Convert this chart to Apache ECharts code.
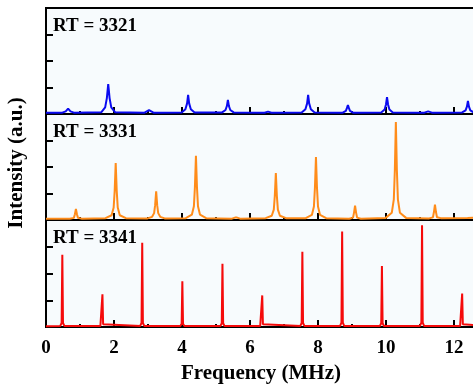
<!DOCTYPE html>
<html>
<head>
<meta charset="utf-8">
<script src="https://cdn.jsdelivr.net/npm/echarts@6/dist/echarts.min.js"></script>
<style>
  body { margin: 0; padding: 0; background: #fff; }
  #chart { width: 473px; height: 391px; }
</style>
</head>
<body>
<div id="chart"></div>
<script>
// panel labels
var panelLabels = ['RT = 3321', 'RT = 3331', 'RT = 3341'];
var xTicks = [0, 2, 4, 6, 8, 10, 12];

// [frequency (MHz), intensity (a.u.)]
var rt3321 = [
  [0, 0.05],
  [0.48, 0.05], [0.58, 0.1], [0.65, 0.2], [0.72, 0.1], [0.82, 0.05],
  [1.63, 0.07], [1.74, 0.25], [1.79, 0.6], [1.83, 1.13], [1.87, 0.6], [1.92, 0.25], [2.03, 0.07],
  [2.9, 0.05], [3.03, 0.15], [3.16, 0.05],
  [3.99, 0.06], [4.1, 0.18], [4.15, 0.4], [4.18, 0.72], [4.21, 0.4], [4.26, 0.18], [4.37, 0.06],
  [5.18, 0.06], [5.28, 0.15], [5.32, 0.3], [5.35, 0.53], [5.38, 0.3], [5.42, 0.15], [5.52, 0.06],
  [6.43, 0.05], [6.53, 0.09], [6.63, 0.05],
  [7.52, 0.06], [7.63, 0.18], [7.68, 0.4], [7.71, 0.72], [7.74, 0.4], [7.79, 0.18], [7.9, 0.06],
  [8.73, 0.05], [8.82, 0.12], [8.85, 0.22], [8.88, 0.34], [8.91, 0.22], [8.94, 0.12], [9.03, 0.05],
  [9.86, 0.06], [9.96, 0.17], [10.0, 0.36], [10.03, 0.64], [10.06, 0.36], [10.1, 0.17], [10.2, 0.06],
  [11.13, 0.05], [11.24, 0.1], [11.35, 0.05],
  [12.24, 0.06], [12.34, 0.14], [12.38, 0.28], [12.41, 0.49], [12.44, 0.28], [12.48, 0.14], [12.58, 0.06],
  [13, 0.05]
];

var rt3331 = [
  [0, 0.05],
  [0.7, 0.05], [0.82, 0.08], [0.85, 0.22], [0.88, 0.42], [0.91, 0.22], [0.94, 0.08], [1.06, 0.05],
  [1.75, 0.07], [1.93, 0.18], [1.99, 0.47], [2.02, 1.1], [2.05, 2.15], [2.08, 1.1], [2.11, 0.47], [2.17, 0.18], [2.35, 0.07],
  [2.99, 0.06], [3.12, 0.12], [3.18, 0.26], [3.21, 0.56], [3.24, 1.08], [3.27, 0.56], [3.3, 0.26], [3.36, 0.12], [3.49, 0.06],
  [4.11, 0.07], [4.29, 0.2], [4.35, 0.52], [4.38, 1.24], [4.41, 2.42], [4.44, 1.24], [4.47, 0.52], [4.53, 0.2], [4.71, 0.07],
  [5.47, 0.05], [5.56, 0.09], [5.59, 0.15], [5.62, 0.09], [5.71, 0.05],
  [6.46, 0.07], [6.64, 0.16], [6.7, 0.39], [6.73, 0.91], [6.76, 1.77], [6.79, 0.91], [6.82, 0.39], [6.88, 0.16], [7.06, 0.07],
  [7.64, 0.07], [7.82, 0.19], [7.88, 0.51], [7.91, 1.22], [7.94, 2.38], [7.97, 1.22], [8.0, 0.51], [8.06, 0.19], [8.24, 0.07],
  [8.92, 0.05], [9.03, 0.09], [9.06, 0.28], [9.09, 0.54], [9.12, 0.28], [9.15, 0.09], [9.26, 0.05],
  [9.99, 0.08], [10.17, 0.27], [10.23, 0.78], [10.26, 1.87], [10.29, 3.7], [10.32, 1.87], [10.35, 0.78], [10.41, 0.27], [10.59, 0.08],
  [11.27, 0.06], [11.38, 0.1], [11.41, 0.3], [11.44, 0.58], [11.47, 0.3], [11.5, 0.1], [11.61, 0.07],
  [12.4, 0.08], [13, 0.1]
];

var rt3341 = [
  [0, 0.03],
  [0.42, 0.04], [0.46, 0.15], [0.48, 2.7], [0.5, 0.15], [0.54, 0.04],
  [1.6, 0.04], [1.64, 0.1], [1.66, 1.22], [1.68, 0.1], [1.72, 0.04],
  [2.77, 0.04], [2.81, 0.15], [2.83, 3.15], [2.85, 0.15], [2.89, 0.04],
  [3.95, 0.04], [3.99, 0.12], [4.01, 1.71], [4.03, 0.12], [4.07, 0.04],
  [5.13, 0.04], [5.17, 0.14], [5.19, 2.36], [5.21, 0.14], [5.25, 0.04],
  [6.3, 0.04], [6.34, 0.1], [6.36, 1.18], [6.38, 0.1], [6.42, 0.04],
  [7.48, 0.04], [7.52, 0.15], [7.54, 2.81], [7.56, 0.15], [7.6, 0.04],
  [8.65, 0.04], [8.69, 0.16], [8.71, 3.57], [8.73, 0.16], [8.77, 0.04],
  [9.82, 0.04], [9.86, 0.14], [9.88, 2.28], [9.9, 0.14], [9.94, 0.04],
  [11.0, 0.04], [11.04, 0.16], [11.06, 3.8], [11.08, 0.16], [11.12, 0.04],
  [12.18, 0.04], [12.22, 0.1], [12.24, 1.25], [12.26, 0.1], [12.3, 0.04],
  [13, 0.03]
];

var spectra = [rt3321, rt3331, rt3341];
var colors = ['#0a0af0', '#ff8c1a', '#f50a0a'];

var FONT = '"Liberation Serif", "Times New Roman", serif';
var panelTops = [8, 114, 220];
var panelH = 106;

var grids = [], xAxes = [], yAxes = [], seriesList = [], graphics = [];

spectra.forEach(function (data, i) {
  // the plot runs past the right edge of the picture, as in the source figure
  grids.push({
    left: 46, top: panelTops[i], width: 442, height: panelH + (i === 2 ? 1 : 0),
    outerBoundsMode: 'none', containLabel: false,
    show: true, borderColor: '#000', borderWidth: 2, backgroundColor: '#f7fbfd'
  });
  xAxes.push({
    gridIndex: i, type: 'value', min: 0, max: 13, interval: 2,
    axisLine: { show: true, lineStyle: { color: '#000', width: 2 } },
    axisTick: { show: true, inside: true, length: 7, lineStyle: { color: '#000', width: 2 } },
    minorTick: { show: true, splitNumber: 2, length: 3, lineStyle: { color: '#000', width: 2 } },
    splitLine: { show: false },
    axisLabel: {
      show: i === 2, color: '#000', fontFamily: FONT, fontWeight: 'bold', fontSize: 19, margin: 12,
      formatter: function (v) { return xTicks.indexOf(v) >= 0 ? String(v) : ''; }
    }
  });
  yAxes.push({
    gridIndex: i, type: 'value', min: 0, max: 4, interval: 1,
    axisLine: { show: true, lineStyle: { color: '#000', width: 2 } },
    axisTick: { show: true, inside: true, length: 7, lineStyle: { color: '#000', width: 2 } },
    axisLabel: { show: false },
    splitLine: { show: false }
  });
  seriesList.push({
    type: 'line', xAxisIndex: i, yAxisIndex: i, data: data,
    showSymbol: false, smooth: false, z: 5,
    lineStyle: { color: colors[i], width: 2 }
  });
  graphics.push({
    type: 'text', left: 53, top: panelTops[i] + 9,
    style: { text: panelLabels[i], fill: '#000', font: 'bold 19px ' + FONT }
  });
});

graphics.push({
  type: 'text', x: 17, y: 163, rotation: Math.PI / 2,
  style: { text: 'Intensity (a.u.)', fill: '#000', font: 'bold 21px ' + FONT, align: 'center', verticalAlign: 'middle' }
});
graphics.push({
  type: 'text', x: 261, y: 374,
  style: { text: 'Frequency (MHz)', fill: '#000', font: 'bold 21px ' + FONT, align: 'center', verticalAlign: 'middle' }
});

var chart = echarts.init(document.getElementById('chart'), null, { renderer: 'canvas' });
chart.setOption({
  animation: false,
  grid: grids,
  xAxis: xAxes,
  yAxis: yAxes,
  series: seriesList,
  graphic: graphics
});
</script>
</body>
</html>
